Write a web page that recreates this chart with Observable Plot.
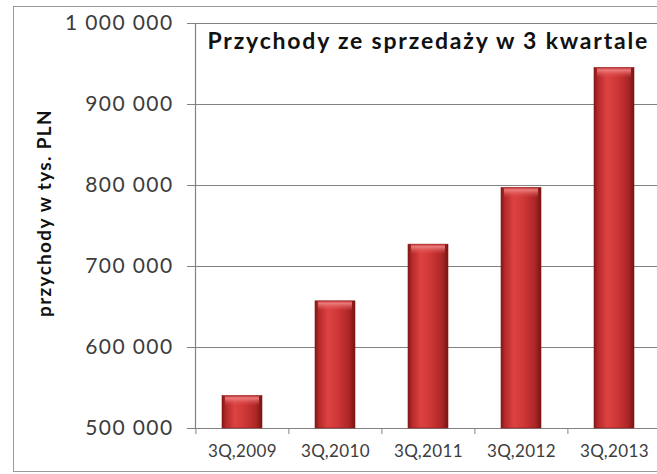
<!DOCTYPE html>
<html>
<head>
<meta charset="utf-8">
<script src="https://cdn.jsdelivr.net/npm/d3@7"></script>
<script src="https://cdn.jsdelivr.net/npm/@observablehq/plot@0.6"></script>
<style>
  html, body { margin: 0; padding: 0; background: #fff; overflow: hidden; width: 657px; height: 474px; }
  #wrap { position: relative; width: 657px; height: 474px; overflow: hidden; }
  #border { position: absolute; left: 13px; top: 6px; width: 680px; height: 466px;
            border: 1.5px solid #9a9a9a; box-sizing: border-box; pointer-events: none; }
  #chart { position: absolute; left: 0; top: 0; width: 700px; }
  #chart svg { max-width: none !important; width: 700px; height: 474px; }
  .ytick text { letter-spacing: 1.4px; }
  .xlab text { letter-spacing: 0.4px; }
  .title text { letter-spacing: 1.8px; }
  .ylab text { letter-spacing: 1.3px; }
</style>
</head>
<body>
<div id="wrap">
  <div id="chart"></div>
  <div id="border"></div>
</div>
<script>
const categories = ["3Q,2009", "3Q,2010", "3Q,2011", "3Q,2012", "3Q,2013"];
const revenues = [540000, 657000, 727000, 797000, 945000];
const yTicks = [500000, 600000, 700000, 800000, 900000, 1000000];
const titleText = "Przychody ze sprzedaży w 3 kwartale";
const yLabel = "przychody w tys. PLN";

const data = categories.map((c, i) => ({category: c, value: revenues[i]}));
const fmt = v => d3.format(",")(v).replace(/,/g, " ");

const W = 700, H = 474, ML = 195, MR = 39, MT = 23, MB = 46;
const step = (W - ML - MR) / categories.length;

const gradient = () => {
  const defs = d3.create("svg:defs");
  const g = defs.append("linearGradient").attr("id", "barGrad")
    .attr("x1", "0").attr("x2", "1").attr("y1", "0").attr("y2", "0");
  [[0, "#821717"], [0.1, "#b52a2a"], [0.32, "#dc4241"], [0.55, "#d03838"], [0.85, "#ad2626"], [1, "#761414"]]
    .forEach(([o, c]) => g.append("stop").attr("offset", o).attr("stop-color", c));
  const c = defs.append("linearGradient").attr("id", "capGrad")
    .attr("x1", "0").attr("x2", "0").attr("y1", "0").attr("y2", "1");
  [[0, "#b83030", 0.9], [0.25, "#f08484", 0.9], [1, "#e05050", 0]]
    .forEach(([o, col, op]) => c.append("stop").attr("offset", o).attr("stop-color", col).attr("stop-opacity", op));
  return defs.node();
};

const chart = Plot.plot({
  width: W, height: H,
  marginLeft: ML, marginRight: MR, marginTop: MT, marginBottom: MB,
  style: {fontFamily: "Lato, sans-serif", background: "transparent", overflow: "visible", maxWidth: "none"},
  x: {domain: categories, paddingInner: 0.57, paddingOuter: 0.285},
  y: {domain: [500000, 1000000]},
  marks: [
    gradient,
    Plot.ruleY(yTicks, {stroke: "#828282", strokeWidth: 1.2}),
    Plot.frame({anchor: "left", stroke: "#828282", strokeWidth: 1.2}),
    Plot.barY(data, {x: "category", y1: 500000, y2: "value", fill: "url(#barGrad)", stroke: "#8a1c1c", strokeWidth: 0.6}),
    Plot.barY(data, {x: "category", y1: "value", y2: "value", insetBottom: -10, insetLeft: 3, insetRight: 3,
      fill: "url(#capGrad)"}),
    Plot.axisY({ticks: yTicks, tickFormat: fmt, tickSize: 8, tickPadding: 14, label: null,
      fontSize: 21, fill: "#3c3c3c", stroke: "#828282", className: "ytick"}),
    Plot.axisX({tickSize: 0, tickPadding: 16, label: null, fontSize: 17, fill: "#3c3c3c", className: "xlab"}),
    Plot.axisX({tickSize: 6, tickFormat: () => "", label: null, dx: -step / 2, stroke: "#828282"}),
    Plot.text([titleText], {frameAnchor: "top-left", dx: 12, dy: 9, text: d => d, textAnchor: "start",
      lineAnchor: "top", fontSize: 23, fontWeight: "bold", fill: "#111", className: "title"}),
    Plot.text([yLabel], {frameAnchor: "left", dx: -151, dy: -13, rotate: -90, text: d => d, textAnchor: "middle",
      fontSize: 19, fontWeight: "bold", fill: "#111", className: "ylab"})
  ]
});
document.getElementById("chart").appendChild(chart);
</script>
</body>
</html>
